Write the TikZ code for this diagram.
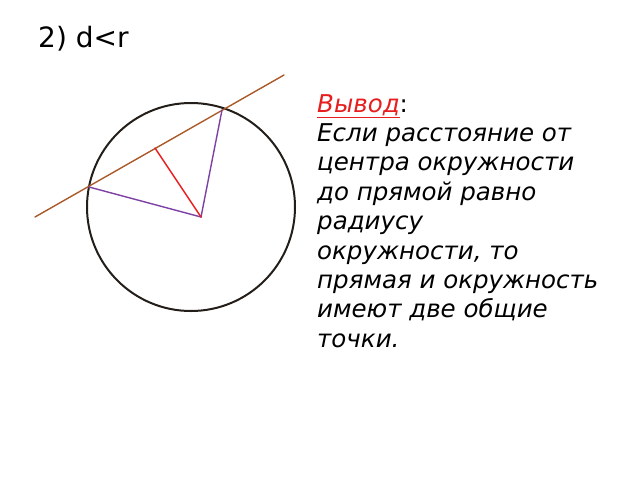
\documentclass[tikz,border=0pt]{standalone}
\usepackage{fontspec}
\setmainfont{DejaVu Sans}
\usetikzlibrary{positioning}
\definecolor{lineBrown}{RGB}{170,90,40}
\definecolor{radiusPurple}{RGB}{125,65,165}
\definecolor{distRed}{RGB}{230,30,30}
\definecolor{circleBlack}{RGB}{35,30,25}
\begin{document}
\begin{tikzpicture}[x=1pt,y=-1pt,
				% styles of the segments and text lines
				seg/.style={line width=1.4pt, line cap=round},
				textline/.style={anchor=base west, inner sep=0pt, font=\fontsize{24.5}{29}\selectfont\itshape}
				]
				\useasboundingbox (0,0) rectangle (640,480);
				\coordinate (CircleCenter) at (191,207);
				\coordinate (CenterPoint) at (201,217);
				\coordinate (LineStart) at (35,217);
				\coordinate (LineEnd) at (284,75);
				\coordinate (LeftCut) at (89,187);
				\coordinate (RightCut) at (222,110);
				\coordinate (FootPoint) at (155,148);
				\draw [circleBlack, line width=2pt] (CircleCenter) circle (104);
				\draw [seg, lineBrown] (LineStart) -- (LineEnd);
				\draw [seg, radiusPurple] (LeftCut) -- (CenterPoint) -- (RightCut);
				\draw [seg, distRed] (CenterPoint) -- (FootPoint);
				\node [anchor=base west, inner sep=0pt, font=\fontsize{28}{32}\selectfont] (CaseTitle) at (38,47) {2) d<r};
				\node [textline] (ConclusionTitle) at (317,112) {\textcolor{distRed}{\underline{Вывод}}\upshape :};
				\foreach \Line [count=\LineIndex] in {Если расстояние от, центра окружности, до прямой равно, радиусу, {окружности, то}, прямая и окружность, имеют две общие, точки.}
					\node [textline] (ConclusionLine\LineIndex) at (317,112+29.4*\LineIndex) {\Line};
			\end{tikzpicture}
\end{document}
